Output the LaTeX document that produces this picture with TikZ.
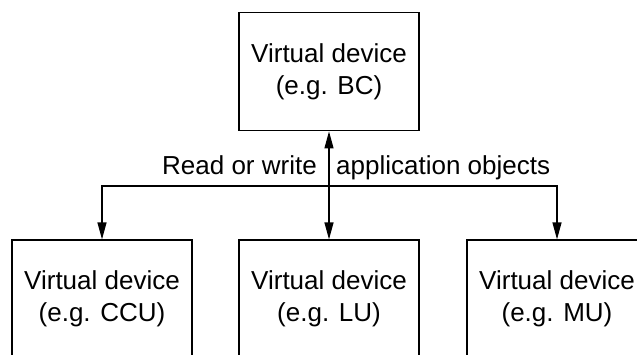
\documentclass[tikz,border=0pt]{standalone}
\usepackage{fontspec}
\setmainfont{Liberation Sans}
\usetikzlibrary{arrows.meta}
\begin{document}
\begin{tikzpicture}[x=1pt,y=1pt,
  devbox/.style={draw=black, line width=1.2pt, minimum width=180pt, minimum height=118pt,
    align=center, inner sep=0pt, font=\fontsize{26}{32.5}\selectfont},
  conn/.style={line width=1.2pt, -{Triangle[length=17pt,width=9pt]}},
  lbl/.style={inner sep=0pt, font=\fontsize{26}{32.5}\selectfont}]
\useasboundingbox (0,0) rectangle (637,354);
\clip (0,0) rectangle (637,354);
\node[devbox] (bc)  at (329,282.2) {Virtual device\\(e.g. BC)};
\node[devbox] (ccu) at (102,55)    {Virtual device\\(e.g. CCU)};
\node[devbox] (lu)  at (329,55)    {Virtual device\\(e.g. LU)};
\node[devbox] (mu)  at (557,55)    {Virtual device\\(e.g. MU)};
\coordinate (j) at (329,168);
\draw[conn] (j) -| (ccu.north);
\draw[conn] (j) -| (mu.north);
\draw[conn, {Triangle[length=17pt,width=9pt]}-{Triangle[length=17pt,width=9pt]}] (lu.north) -- (bc.south);
\node[lbl, anchor=base east] (l1) at (317,179) {Read or write};
\node[lbl, anchor=base west] (l2) at (336,179) {application objects};
\end{tikzpicture}
\end{document}
